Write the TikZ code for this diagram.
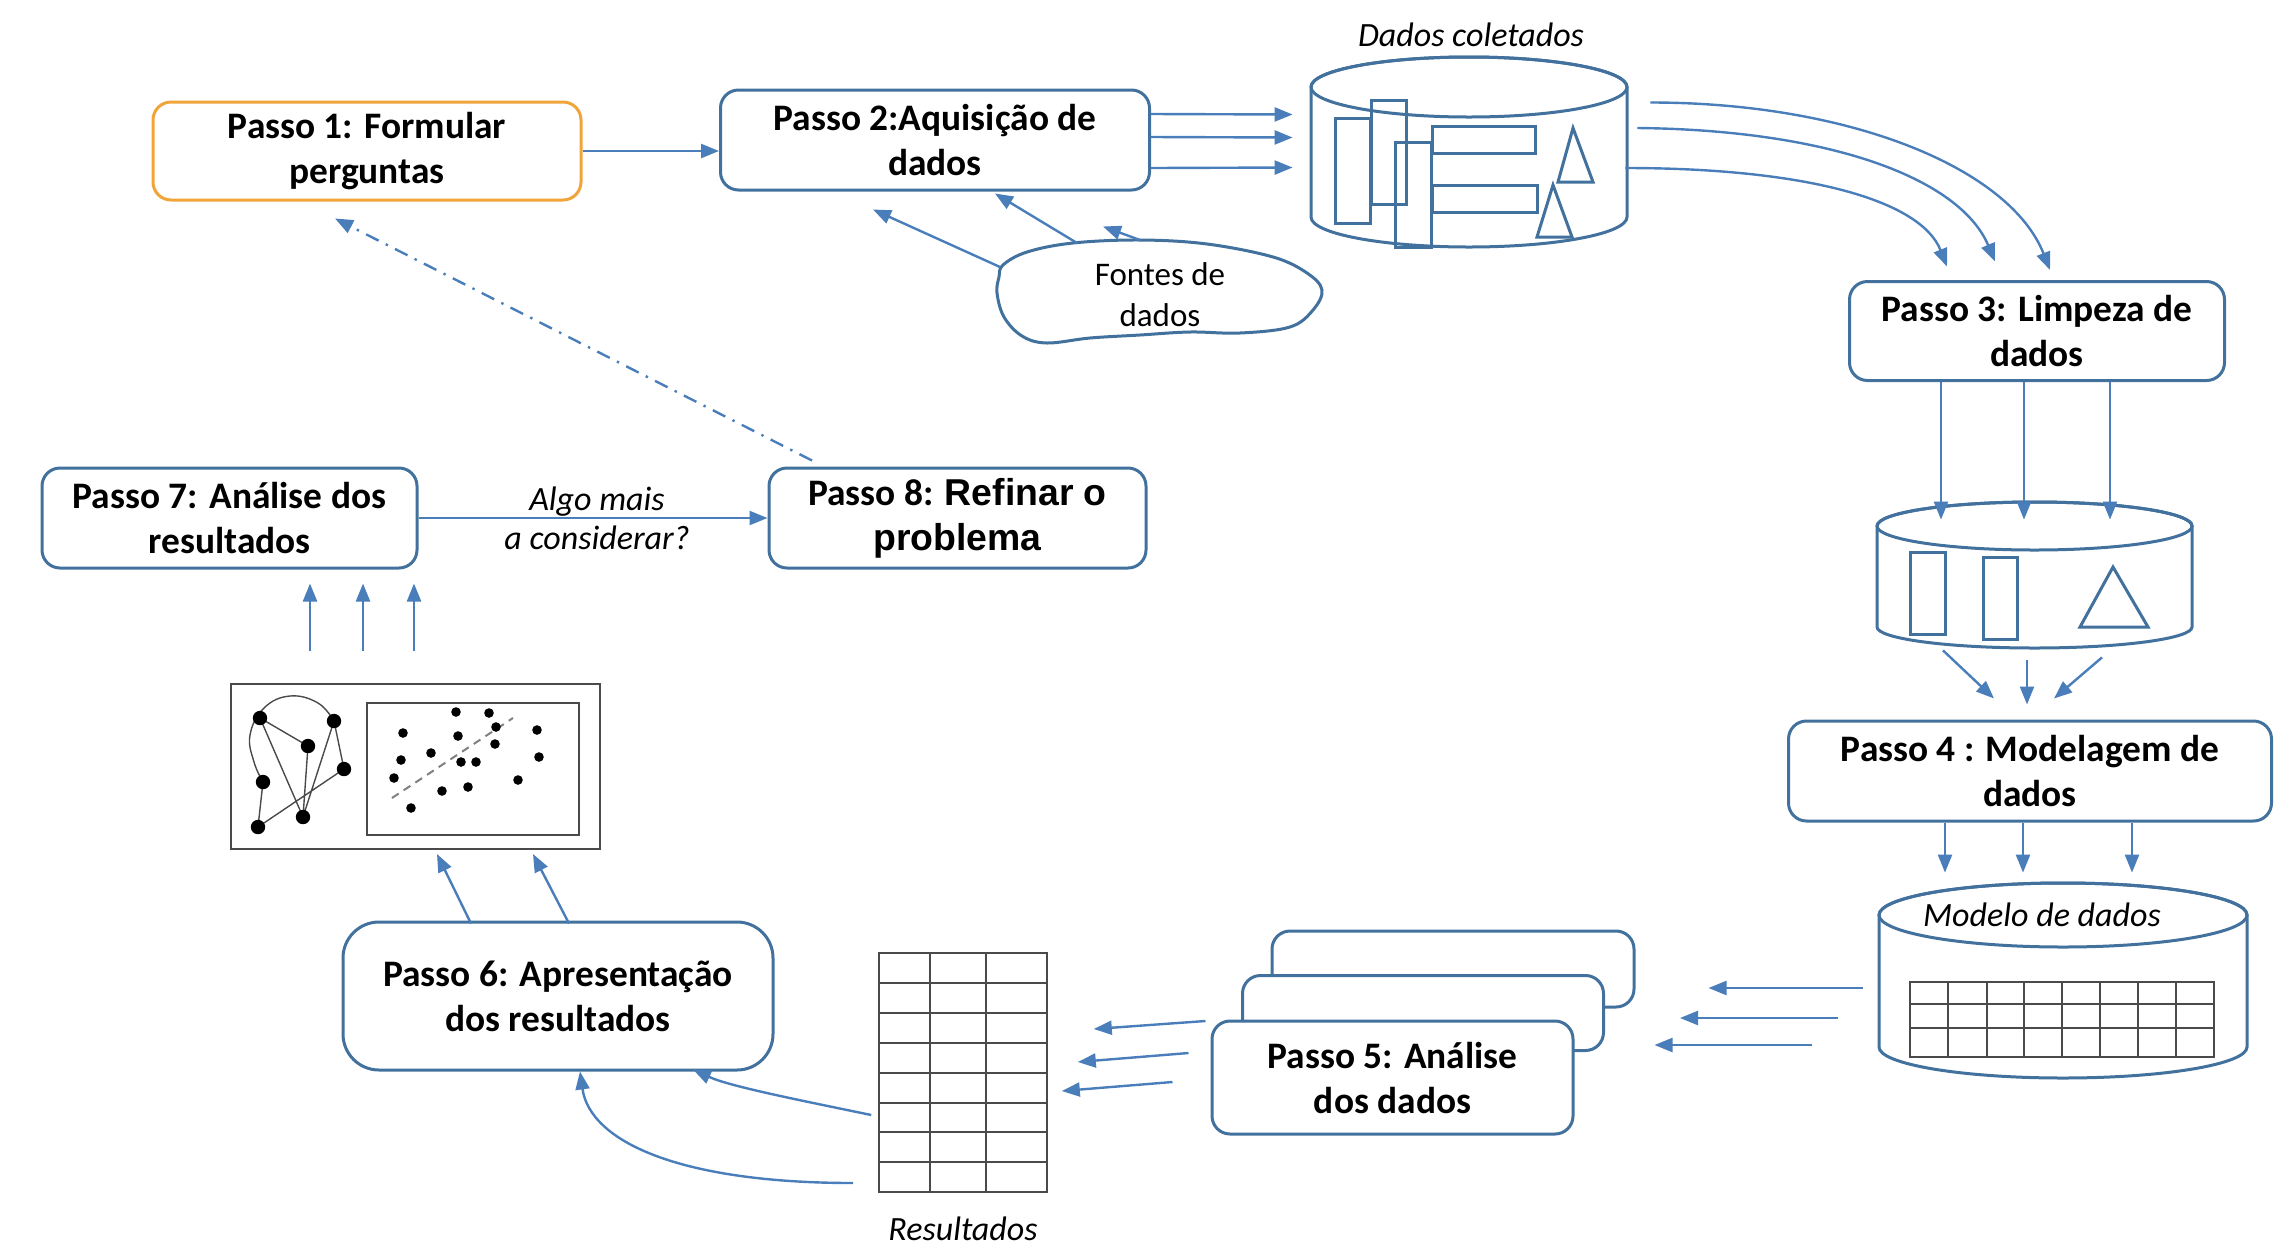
\documentclass[tikz,border=0pt]{standalone}
\usepackage{fontspec}
\setmainfont{Carlito}
\newfontfamily\arialfont{Liberation Sans}
\usetikzlibrary{arrows.meta,calc}
\definecolor{bblue}{HTML}{41719C}
\definecolor{ablue}{HTML}{4A7EBB}
\definecolor{orng}{HTML}{F0A43A}
\definecolor{gridgray}{HTML}{4A4A4A}
\begin{document}
\begin{tikzpicture}[x=0.5pt,y=-0.5pt,
  stepbox/.style={draw=bblue, line width=1.5pt, rounded corners=9pt, fill=white, align=center,
    font=\fontsize{18.7}{22.5}\selectfont\bfseries, inner sep=0pt},
  arr/.style={draw=ablue, line width=1.2pt, -{Triangle[length=9pt,width=7pt]}},
  cylline/.style={draw=bblue, line width=1.5pt},
  gridline/.style={draw=gridgray, line width=0.7pt},
  lbl/.style={font=\fontsize{17}{19.5}\selectfont\itshape, inner sep=0pt, align=center},
  dot/.style={fill=black, draw=none},
  hidden/.style={inner sep=0pt}
]
\useasboundingbox (0,0) rectangle (2288,1249);

% ---------- Step boxes top ----------
\node[stepbox, draw=orng, minimum width=214pt, minimum height=49pt] (p1) at (367,151) {Passo 1: Formular\\perguntas};
\node[stepbox, minimum width=214.5pt, minimum height=50pt] (p2) at (935,140) {Passo 2:Aquisição de\\dados};

% ---------- Cylinder 1: Dados coletados ----------
\node[hidden, minimum width=158pt, minimum height=94.5pt] (cyl1) at (1469,152.5) {};
\filldraw[cylline, fill=white] (1311,87) -- (1311,217)
  arc[start angle=180,end angle=360,x radius=79pt,y radius=15pt] -- (1627,87)
  arc[start angle=0,end angle=180,x radius=79pt,y radius=15pt] -- cycle;
\draw[cylline] (1469,87) ellipse[x radius=79pt, y radius=15pt];
\draw[cylline] (1335,118) rectangle (1370,223);
\draw[cylline] (1371,100) rectangle (1406,204);
\draw[cylline] (1395,142) rectangle (1431,247);
\draw[cylline] (1432,126) rectangle (1535,153);
\draw[cylline] (1432,185) rectangle (1537,212);
\draw[cylline] (1573,128) -- (1593,182) -- (1558,182) -- cycle;
\draw[cylline] (1553,185) -- (1572,237) -- (1537,237) -- cycle;
\node[lbl] (lab1) at (1471,35) {Dados coletados};

% ---------- Cloud: Fontes de dados ----------
\draw[cylline, fill=white] plot[smooth cycle, tension=0.6] coordinates {
  (1003,265) (1027,252) (1073,243) (1140,240) (1207,244) (1273,257) (1307,273)
  (1322,290) (1313,310) (1290,327) (1240,333) (1190,332) (1140,335) (1090,338)
  (1047,343) (1022,336) (1004,317) (997,293) (999,277)};
\node[font=\fontsize{16.5}{20.5}\selectfont, align=center, inner sep=0pt] (src) at (1160,295) {Fontes de\\dados};

% ---------- Passo 3 ----------
\node[stepbox, minimum width=187.5pt, minimum height=49.5pt] (p3) at (2037,331) {Passo 3: Limpeza de\\dados};

% ---------- Cylinder 2 ----------
\node[hidden, minimum width=157.5pt, minimum height=73pt] (cyl2) at (2034.5,575) {};
\filldraw[cylline, fill=white] (1877,526) -- (1877,627)
  arc[start angle=180,end angle=360,x radius=78.75pt,y radius=10.5pt] -- (2192,526)
  arc[start angle=0,end angle=180,x radius=78.75pt,y radius=12pt] -- cycle;
\draw[cylline] (2034.5,526) ellipse[x radius=78.75pt, y radius=12pt];
\draw[cylline] (1910,552) rectangle (1945,634);
\draw[cylline] (1983,557) rectangle (2017,639);
\draw[cylline] (2113,567) -- (2148,627) -- (2080,627) -- cycle;

% ---------- Passo 4 ----------
\node[stepbox, minimum width=241.5pt, minimum height=50pt] (p4) at (2030,771) {Passo 4 : Modelagem de\\dados};

% ---------- Cylinder 3: Modelo de dados ----------
\node[hidden, minimum width=184pt, minimum height=97.5pt] (cyl3) at (2063,980.5) {};
\filldraw[cylline, fill=white] (1879,915) -- (1879,1047)
  arc[start angle=180,end angle=360,x radius=92pt,y radius=15.5pt] -- (2247,915)
  arc[start angle=0,end angle=180,x radius=92pt,y radius=16pt] -- cycle;
\draw[cylline] (2063,915) ellipse[x radius=92pt, y radius=16pt];
\node[lbl] (lab3) at (2042,915) {Modelo de dados};
\draw[gridline] (1910,982) rectangle (2214,1057);
\foreach \gx in {1948,1987,2024,2062,2100,2138,2176} \draw[gridline] (\gx,982) -- (\gx,1057);
\foreach \gy in {1004,1028} \draw[gridline] (1910,\gy) -- (2214,\gy);

% ---------- Passo 5 stack ----------
\node[stepbox, minimum width=181pt, minimum height=38pt] (p5c) at (1453,969) {};
\node[stepbox, minimum width=180.5pt, minimum height=37.5pt] (p5b) at (1423,1013) {};
\node[stepbox, minimum width=180.5pt, minimum height=56.5pt] (p5) at (1392.5,1077.5) {Passo 5: Análise\\dos dados};

% ---------- Results table ----------
\node[draw=gridgray, line width=0.8pt, inner sep=0pt, minimum width=84pt, minimum height=119.5pt] (tab) at (963,1072.5) {};
\foreach \gx in {930,986} \draw[gridline] (\gx,953) -- (\gx,1192);
\foreach \gy in {983,1013,1043,1073,1103,1132,1162} \draw[gridline] (879,\gy) -- (1047,\gy);
\node[lbl] (res) at (963,1229) {Resultados};

% ---------- Passo 6 ----------
\node[stepbox, rounded corners=18pt, minimum width=215pt, minimum height=74pt] (p6) at (558,996) {Passo 6: Apresentação\\dos resultados};

% ---------- Chart image ----------
\node[draw=gridgray, line width=1pt, inner sep=0pt, minimum width=184.5pt, minimum height=82.5pt] (chart) at (415.5,766.5) {};
\draw[draw=gridgray, line width=1pt] (367,703) rectangle (579,835);
\draw[gridgray, line width=0.7pt] plot[smooth, tension=0.7] coordinates {(334,721) (318,703) (290,696) (264,708) (250,735) (254,762) (263,782)};
\draw[gridgray, line width=0.7pt] (260,718) -- (308,746) (260,718) -- (303,817) (334,721) -- (344,769)
  (334,721) -- (303,817) (308,746) -- (303,817) (344,769) -- (258,827) (263,782) -- (258,827);
\foreach \px/\py in {260/718,334/721,308/746,344/769,263/782,303/817,258/827}
  \fill[dot] (\px,\py) circle[radius=3.6pt];
\draw[gray, line width=1pt, dash pattern=on 4pt off 3pt] (392,798) -- (513,718);
\foreach \px/\py in {456/712,489/713,496/727,403/733,458/736,537/730,495/744,431/753,401/760,
  461/762,476/762,539/757,394/778,518/780,442/791,468/787,411/808}
  \fill[dot] (\px,\py) circle[radius=2.4pt];

% ---------- Passo 7 and 8 ----------
\node[stepbox, minimum width=187.5pt, minimum height=50pt] (p7) at (229.5,518) {Passo 7: Análise dos\\resultados};
\node[stepbox, minimum width=188.5pt, minimum height=50pt] (p8) at (957.5,518) {Passo 8: {\arialfont Refinar o}\\{\arialfont problema}};
\node[lbl] (q) at (597,518) {Algo mais\\a considerar?};

% ---------- Connectors ----------
\draw[arr] (p1.east) -- (p1.east -| p2.west);
\draw[arr] ($(p2.east)+(0,-26)$) -- ($(cyl1.west)+(-18,-38)$);
\draw[arr] ($(p2.east)+(0,-3)$) -- ($(cyl1.west)+(-18,-15)$);
\draw[arr] ($(p2.east)+(0,28)$) -- ($(cyl1.west)+(-18,15)$);

\draw[arr] ($(src)+(-160,-28)$) -- ($(p2.south)+(-62,18)$);
\draw[arr] ($(src)+(-83,-52)$) -- ($(p2.south)+(60,2)$);
\draw[arr] ($(src)+(-20,-55)$) -- ($(p2.south)+(168,35)$);

\draw[arr] ($(cyl1.east)+(23,-50)$) .. controls +(200,0) and +(-40,-101.5) .. ($(p3.north)+(13,-10)$);
\draw[arr] ($(cyl1.east)+(10,-24.5)$) .. controls +(193,2) and +(-35,-83) .. ($(p3.north)+(-42,-18.5)$);
\draw[arr] ($(cyl1.east)+(-2,15.5)$) .. controls +(175,0) and +(-27,-68) .. ($(p3.north)+(-90,-13.5)$);

\draw[arr] ($(p3.south)+(-96,0)$) -- ($(cyl2.north)+(-93.5,18)$);
\draw[arr] ($(p3.south)+(-13,0)$) -- ($(cyl2.north)+(-10.5,18)$);
\draw[arr] ($(p3.south)+(73,0)$) -- ($(cyl2.north)+(75.5,18)$);

\draw[arr] ($(cyl2.south)+(-91.5,2)$) -- ($(p4.north)+(-36,-21)$);
\draw[arr] ($(cyl2.south)+(-7.5,12)$) -- ($(p4.north)+(-3,-15)$);
\draw[arr] ($(cyl2.south)+(67.5,9)$) -- ($(p4.north)+(24,-21)$);

\draw[arr] ($(p4.south)+(-85,0)$) -- ($(cyl3.north)+(-118,-10)$);
\draw[arr] ($(p4.south)+(-7,0)$) -- ($(cyl3.north)+(-40,-10)$);
\draw[arr] ($(p4.south)+(102,0)$) -- ($(cyl3.north)+(69,-10)$);

\draw[arr] ($(cyl3.west)+(-16,7.5)$) -- ($(p5c.east)+(73,19)$);
\draw[arr] ($(cyl3.west)+(-41,37.5)$) -- ($(p5b.east)+(75,5)$);
\draw[arr] ($(cyl3.west)+(-67,64.5)$) -- ($(p5.east)+(80,-32.5)$);

\draw[arr] ($(p5.west)+(-5,-56.5)$) -- ($(tab.east)+(46,-43.5)$);
\draw[arr] ($(p5.west)+(-22,-24.5)$) -- ($(tab.east)+(30,-10.5)$);
\draw[arr] ($(p5.west)+(-38,4.5)$) -- ($(tab.east)+(14,18.5)$);

\draw[arr] ($(tab.west)+(-7,42.5)$) .. controls +(-72,-15) and +(37,17) .. ($(p6.south)+(135,-2)$);
\draw[arr] ($(tab.west)+(-25,110.5)$) .. controls +(-174,0) and +(10,70) .. ($(p6.south)+(22,0)$);

\draw[arr] ($(p6.north)+(-87,3)$) -- ($(chart.south)+(21.5,4)$);
\draw[arr] ($(p6.north)+(11,3)$) -- ($(chart.south)+(117.5,4)$);

\draw[arr] ($(chart.north)+(-105.5,-32)$) -- ($(p7.south)+(80.5,14)$);
\draw[arr] ($(chart.north)+(-52.5,-32)$) -- ($(p7.south)+(133.5,14)$);
\draw[arr] ($(chart.north)+(-1.5,-32)$) -- ($(p7.south)+(184.5,14)$);

\draw[arr] (p7.east) -- (p8.west);
\draw[arr, dash pattern=on 7pt off 4pt on 1.2pt off 4pt] ($(p8.north)+(-145.5,-6)$) -- ($(p1.south)+(-32,17)$);
\end{tikzpicture}
\end{document}
